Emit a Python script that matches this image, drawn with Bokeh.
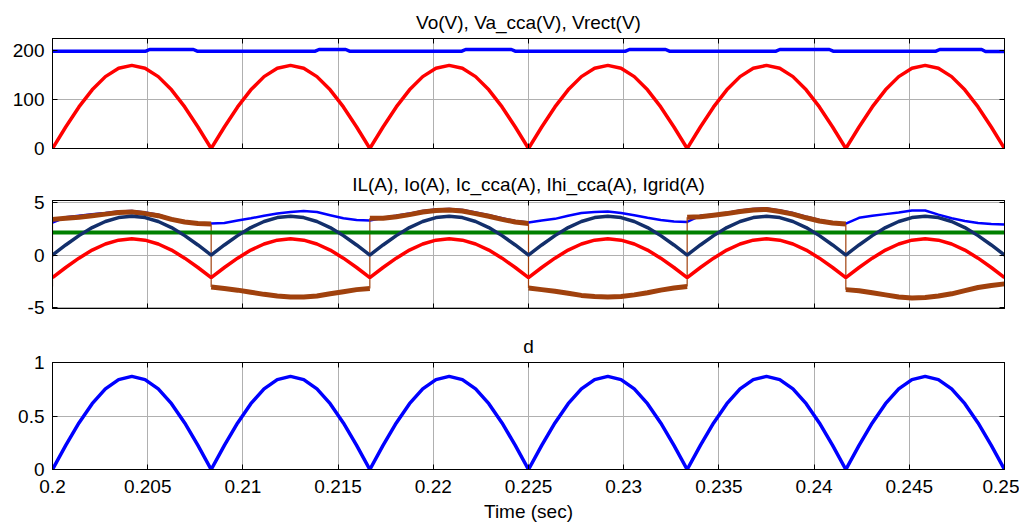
import numpy as np
from bokeh.plotting import figure
from bokeh.layouts import column
from bokeh.models import Range1d, FixedTicker, CustomJSTickFormatter, LinearAxis
from bokeh.embed import file_html
from bokeh.resources import INLINE

# ---------------- data ----------------
x_ticks = [0.2, 0.205, 0.21, 0.215, 0.22, 0.225, 0.23, 0.235, 0.24, 0.245, 0.25]
y1_ticks = [0, 100, 200]
y2_ticks = [-5, 0, 5]
y3_ticks = [0, 0.5, 1]

titles = ["Vo(V), Va_cca(V), Vrect(V)",
          "IL(A), Io(A), Ic_cca(A), Ihi_cca(A), Igrid(A)",
          "d"]
x_label = "Time (sec)"

# sample times (12 samples per half cycle of the 60 Hz mains)
t = np.linspace(0.2, 0.25, 73)

# Vo (V): output voltage, small steps
vo_t = [0.2, 0.2049, 0.2051, 0.2074, 0.2076, 0.2138, 0.2140, 0.2154, 0.2156,
        0.2215, 0.2217, 0.2241, 0.2243, 0.2301, 0.2303, 0.2322, 0.2324,
        0.2380, 0.2382, 0.2408, 0.2410, 0.2464, 0.2466, 0.2488, 0.2490, 0.25]
vo = [199, 199, 202.5, 202.5, 199, 199, 202.5, 202.5, 199,
      199, 202.5, 202.5, 199, 199, 202.5, 202.5, 199,
      199, 202.5, 202.5, 199, 199, 202.5, 202.5, 198.5, 198.5]

# Vrect (V)
vrect = [0, 44, 85, 120, 147, 164, 170, 164, 147, 120, 85, 44,
         0, 44, 85, 120, 147, 164, 170, 164, 147, 120, 85, 44,
         0, 44, 85, 120, 147, 164, 170, 164, 147, 120, 85, 44,
         0, 44, 85, 120, 147, 164, 170, 164, 147, 120, 85, 44,
         0, 44, 85, 120, 147, 164, 170, 164, 147, 120, 85, 44,
         0, 44, 85, 120, 147, 164, 170, 164, 147, 120, 85, 44, 0]

# IL (A) - thin blue
il = [3.1, 3.6, 3.75, 3.9, 4.0, 4.15, 4.2, 4.05, 3.85, 3.45, 3.2, 3.05, 3.0,
      3.05, 3.3, 3.5, 3.75, 3.95, 4.1, 4.2, 4.1, 3.8, 3.5, 3.35, 3.3,
      3.55, 3.75, 3.95, 4.2, 4.35, 4.4, 4.3, 4.05, 3.8, 3.5, 3.25, 3.1,
      3.3, 3.45, 3.75, 4.0, 4.1, 4.15, 4.0, 3.8, 3.55, 3.35, 3.2, 3.15,
      3.75, 3.85, 4.0, 4.25, 4.4, 4.45, 4.25, 4.0, 3.65, 3.35, 3.1, 3.0,
      3.55, 3.75, 3.9, 4.05, 4.25, 4.25, 3.85, 3.5, 3.25, 3.05, 2.95, 2.9]

# Io (A) - green, constant
io_t = [0.2, 0.25]
io = [2.15, 2.15]

# Igrid (A) - navy, rectified
igrid = [0, 0.96, 1.85, 2.62, 3.2, 3.57, 3.7, 3.57, 3.2, 2.62, 1.85, 0.96,
         0, 0.96, 1.85, 2.62, 3.2, 3.57, 3.7, 3.57, 3.2, 2.62, 1.85, 0.96,
         0, 0.96, 1.85, 2.62, 3.2, 3.57, 3.7, 3.57, 3.2, 2.62, 1.85, 0.96,
         0, 0.96, 1.85, 2.62, 3.2, 3.57, 3.7, 3.57, 3.2, 2.62, 1.85, 0.96,
         0, 0.96, 1.85, 2.62, 3.2, 3.57, 3.7, 3.57, 3.2, 2.62, 1.85, 0.96,
         0, 0.96, 1.85, 2.62, 3.2, 3.57, 3.7, 3.57, 3.2, 2.62, 1.85, 0.96, 0]

# Ic_cca (A) - red
ic = [-2.15, -1.19, -0.3, 0.47, 1.05, 1.42, 1.55, 1.42, 1.05, 0.47, -0.3, -1.19,
      -2.15, -1.19, -0.3, 0.47, 1.05, 1.42, 1.55, 1.42, 1.05, 0.47, -0.3, -1.19,
      -2.15, -1.19, -0.3, 0.47, 1.05, 1.42, 1.55, 1.42, 1.05, 0.47, -0.3, -1.19,
      -2.15, -1.19, -0.3, 0.47, 1.05, 1.42, 1.55, 1.42, 1.05, 0.47, -0.3, -1.19,
      -2.15, -1.19, -0.3, 0.47, 1.05, 1.42, 1.55, 1.42, 1.05, 0.47, -0.3, -1.19,
      -2.15, -1.19, -0.3, 0.47, 1.05, 1.42, 1.55, 1.42, 1.05, 0.47, -0.3, -1.19, -2.15]

# Ihi_cca (A) - brown, one list per half cycle (13 samples each)
ihi_start = -3.0
ihi_hc1 = [3.4, 3.5, 3.6, 3.75, 3.9, 4.05, 4.1, 3.95, 3.75, 3.4, 3.15, 3.0, 2.95]
ihi_hc2 = [-3.05, -3.2, -3.35, -3.55, -3.75, -3.9, -4.0, -4.0, -3.9, -3.7, -3.5, -3.3, -3.2]
ihi_hc3 = [3.5, 3.5, 3.65, 3.85, 4.1, 4.25, 4.3, 4.2, 3.95, 3.7, 3.4, 3.15, 3.0]
ihi_hc4 = [-3.15, -3.3, -3.45, -3.65, -3.85, -3.95, -4.0, -3.95, -3.8, -3.6, -3.35, -3.15, -3.0]
ihi_hc5 = [3.6, 3.65, 3.8, 3.95, 4.15, 4.3, 4.35, 4.15, 3.9, 3.55, 3.25, 3.05, 2.95]
ihi_hc6 = [-3.3, -3.4, -3.6, -3.8, -4.0, -4.1, -4.05, -3.9, -3.7, -3.4, -3.1, -2.9, -2.75]
ihi = [ihi_hc1, ihi_hc2, ihi_hc3, ihi_hc4, ihi_hc5, ihi_hc6]

# d - duty cycle
d = [0, 0.225, 0.435, 0.615, 0.753, 0.84, 0.87, 0.84, 0.753, 0.615, 0.435, 0.225,
     0, 0.225, 0.435, 0.615, 0.753, 0.84, 0.87, 0.84, 0.753, 0.615, 0.435, 0.225,
     0, 0.225, 0.435, 0.615, 0.753, 0.84, 0.87, 0.84, 0.753, 0.615, 0.435, 0.225,
     0, 0.225, 0.435, 0.615, 0.753, 0.84, 0.87, 0.84, 0.753, 0.615, 0.435, 0.225,
     0, 0.225, 0.435, 0.615, 0.753, 0.84, 0.87, 0.84, 0.753, 0.615, 0.435, 0.225,
     0, 0.225, 0.435, 0.615, 0.753, 0.84, 0.87, 0.84, 0.753, 0.615, 0.435, 0.225, 0]

# ---------------- styling helpers ----------------
FONT = "Liberation Sans"
FS = "19px"
fmt_code = "return tick.toString()"


def make_fig(title, yr, yticks, height, top, bottom, show_x):
    p = figure(width=1019, height=height, output_backend="svg", toolbar_location=None,
               x_range=Range1d(0.2, 0.25), y_range=Range1d(*yr),
               min_border_left=52, min_border_right=15,
               min_border_top=top, min_border_bottom=bottom,
               title=title, x_axis_location=None, y_axis_location=None)
    p.title.align = "center"
    p.title.vertical_align = "middle"
    p.title.text_font = FONT
    p.title.text_font_size = FS
    p.title.text_font_style = "normal"
    p.title.text_color = "black"
    p.outline_line_color = "black"
    p.outline_line_width = 1
    p.background_fill_color = "white"
    p.border_fill_color = "white"

    xt = FixedTicker(ticks=x_ticks)
    yt = FixedTicker(ticks=yticks)

    for loc, lab in (("below", show_x), ("above", False)):
        ax = LinearAxis(ticker=xt, formatter=CustomJSTickFormatter(code=fmt_code))
        ax.major_tick_in = 5
        ax.major_tick_out = 0
        ax.minor_tick_line_color = None
        ax.axis_line_color = "black"
        ax.major_label_text_font = FONT
        if lab:
            ax.major_label_text_font_size = FS
            ax.major_label_standoff = 10
            ax.major_label_text_color = "black"
        else:
            ax.major_label_text_font_size = "1px"
            ax.major_label_standoff = 4 if loc == "above" else 0
            ax.major_label_text_color = None
        if loc == "below" and show_x:
            ax.axis_label = x_label
            ax.axis_label_text_font = FONT
            ax.axis_label_text_font_size = FS
            ax.axis_label_text_font_style = "normal"
            ax.axis_label_text_color = "black"
            ax.axis_label_standoff = 5
        p.add_layout(ax, loc)

    for loc, lab in (("left", True), ("right", False)):
        ax = LinearAxis(ticker=yt, formatter=CustomJSTickFormatter(code=fmt_code))
        ax.major_tick_in = 5
        ax.major_tick_out = 0
        ax.minor_tick_line_color = None
        ax.axis_line_color = "black"
        ax.major_label_text_font = FONT
        if lab:
            ax.major_label_text_font_size = FS
            ax.major_label_standoff = 8
            ax.major_label_text_color = "black"
        else:
            ax.major_label_text_font_size = "1px"
            ax.major_label_standoff = 0
            ax.major_label_text_color = None
        p.add_layout(ax, loc)

    p.xgrid.ticker = xt
    p.ygrid.ticker = yt
    for g in (p.xgrid, p.ygrid):
        g.grid_line_color = "#b0b0b0"
        g.grid_line_width = 1
    return p


# ---------------- panel 1 ----------------
p1 = make_fig(titles[0], (0, 225), y1_ticks, 166, 38, 18, False)
p1.line(vo_t, vo, line_color="#0000ff", line_width=3.5)
p1.line(t, vrect, line_color="#ff0000", line_width=3.5)

# ---------------- panel 2 ----------------
p2 = make_fig(titles[1], (-5.1, 5.2), y2_ticks, 162, 34, 20, False)
p2.line(t, il, line_color="#0000ff", line_width=2.5)
xs = [list(t[12 * k:12 * k + 13]) for k in range(6)]
p2.multi_line(xs, ihi, line_color="#a0410d", line_width=5)
jx = [t[0]] + [t[12 * k] for k in range(1, 6)]
jy0 = [ihi_start] + [ihi[k - 1][-1] for k in range(1, 6)]
jy1 = [ihi[0][0]] + [ihi[k][0] for k in range(1, 6)]
p2.segment(x0=jx, y0=jy0, x1=jx, y1=jy1, line_color="#a0410d", line_width=1.2)
p2.line(io_t, io, line_color="#008000", line_width=4)
p2.line(t, ic, line_color="#ff0000", line_width=3.5)
p2.line(t, igrid, line_color="#132f6b", line_width=3.5)

# ---------------- panel 3 ----------------
p3 = make_fig(titles[2], (0, 1), y3_ticks, 197, 34, 56, True)
p3.line(t, d, line_color="#0000ff", line_width=3.5)

layout = column(p1, p2, p3, spacing=0)
open("out.html", "w").write(file_html(layout, INLINE))
